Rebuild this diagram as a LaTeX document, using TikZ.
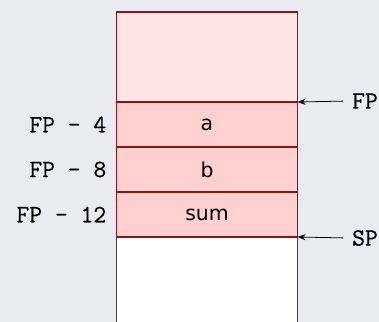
\documentclass[tikz,border=0pt]{standalone}
\usepackage{fontspec}
\setmainfont{DejaVu Sans}
\newfontfamily\stackmono[FakeBold=0.4]{Latin Modern Mono}
\usepackage{tikz}
\usetikzlibrary{arrows.meta}

\definecolor{bgLavender}{HTML}{EAEAF2}
\definecolor{frameRed}{HTML}{8B1414}
\definecolor{topPink}{HTML}{FFE4E4}
\definecolor{cellPink}{HTML}{FFD0D0}
\definecolor{freeGray}{HTML}{404040}

\tikzset{
	cell/.style={draw=frameRed, fill=cellPink, line width=1.3bp, minimum width=181bp, minimum height=45bp, inner sep=0pt, outer sep=0pt, font=\fontsize{20.5}{24}\selectfont},
	offset/.style={anchor=east, inner sep=0pt, font=\stackmono\fontsize{25}{28}\selectfont},
	pointer/.style={anchor=west, inner sep=3bp, font=\stackmono\fontsize{25}{28}\selectfont},
	arrowline/.style={black, line width=0.8bp, -{Stealth[length=8bp, width=6bp]}}
}

\begin{document}
\begin{tikzpicture}[x=1bp, y=1bp]
	\useasboundingbox (0,0) rectangle (379,322);
	\fill[bgLavender] (0,0) rectangle (379,322);

	% unused part of the stack below SP
	\fill[white] (116.5,-2) rectangle (297.5,84);
	\draw[freeGray, line width=1.3bp] (116.5,-2) -- (116.5,84);
	\draw[freeGray, line width=1.3bp] (297.5,-2) -- (297.5,84);

	% caller frame
	\node[cell, fill=topPink, minimum height=90bp, anchor=south west] (callerFrame) at (116.5,220) {};

	% locals
	\node[cell, anchor=north west] (cellA) at (callerFrame.south west) {a};
	\node[cell, anchor=north west] (cellB) at (cellA.south west) {b};
	\node[cell, anchor=north west] (cellSum) at (cellB.south west) {sum};

	\node[offset, xshift=-10bp] (offA) at (cellA.west) {FP - 4};
	\node[offset, xshift=-10bp] (offB) at (cellB.west) {FP - 8};
	\node[offset, xshift=-10bp] (offSum) at (cellSum.west) {FP - 12};

	% frame and stack pointers
	\node[pointer] (fpLabel) at (349,221) {FP};
	\node[pointer] (spLabel) at (349,84) {SP};
	\draw[arrowline, shorten <=6bp] (fpLabel.west) -- (cellA.north east);
	\draw[arrowline, shorten <=6bp] (spLabel.west) -- (cellSum.south east);
\end{tikzpicture}
\end{document}
